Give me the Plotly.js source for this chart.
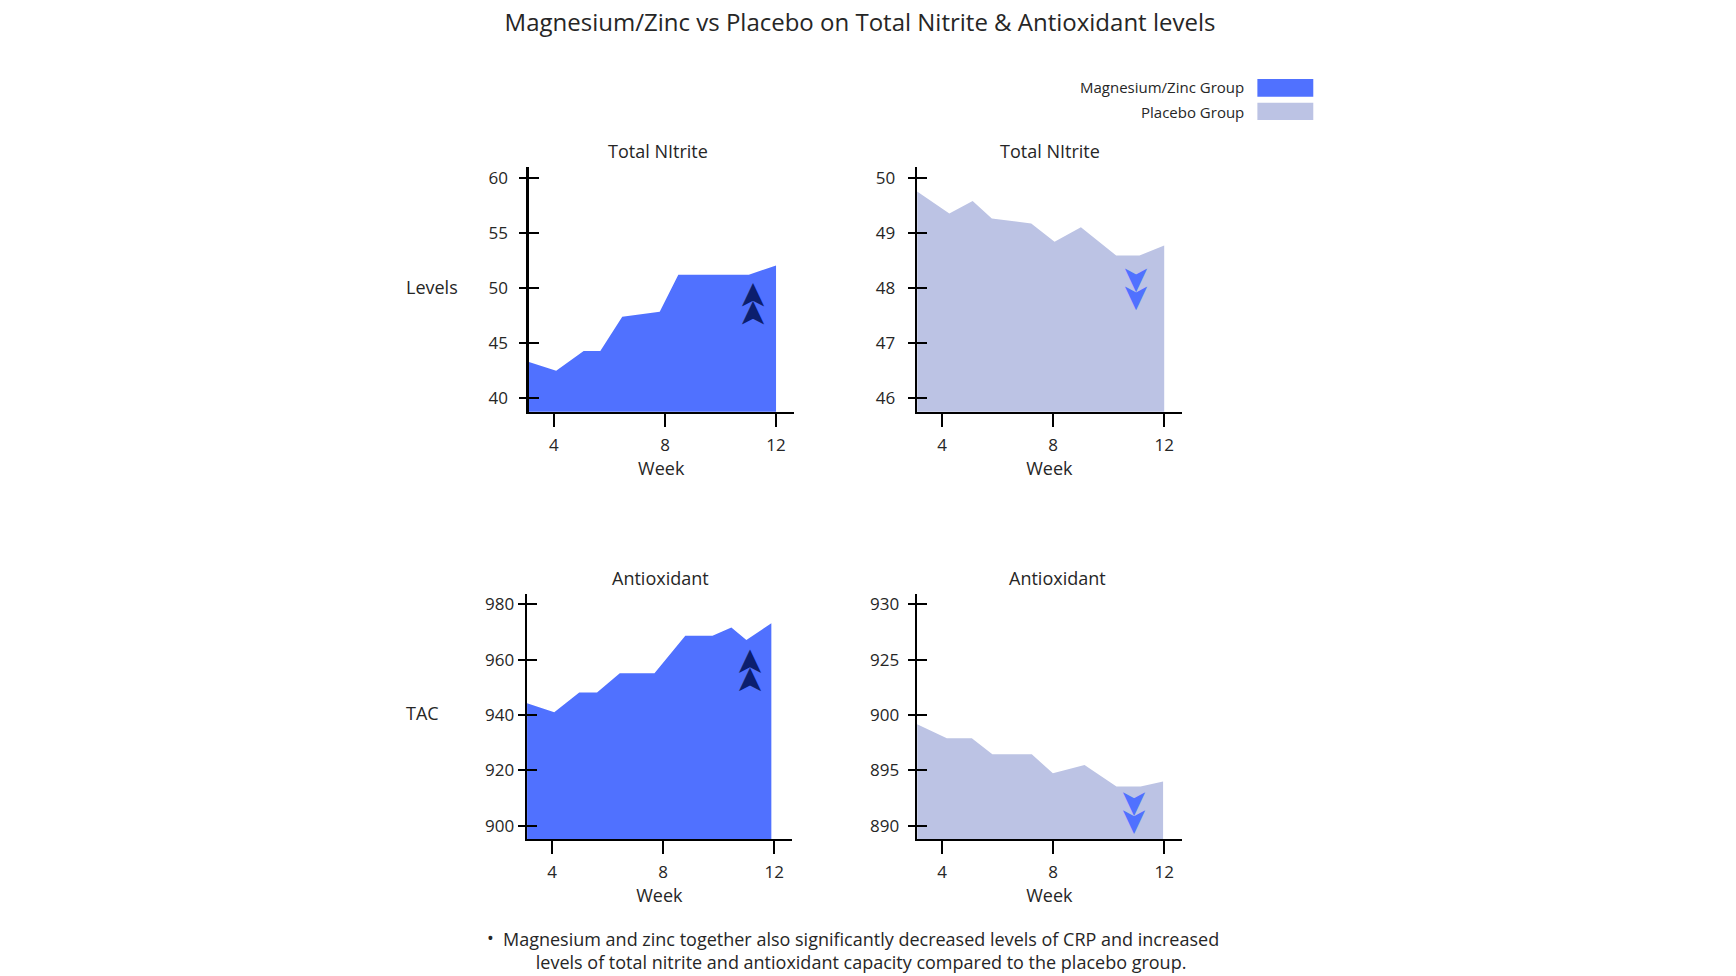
<!DOCTYPE html>
<html><head><meta charset="utf-8">
<script src="https://cdn.plot.ly/plotly-3.0.1.min.js"></script>
<style>html,body{margin:0;padding:0;background:#fff}#chart{width:1736px;height:976px}</style>
</head><body><div id="chart"></div>
<script>
// ---- data ----
const seriesNames = ['Magnesium/Zinc Group', 'Placebo Group'];
const panelTitles = ['Total NItrite', 'Total NItrite', 'Antioxidant', 'Antioxidant'];
const rowLabels = ['Levels', 'TAC'];
const weekTicks = [4, 8, 12];

const mgNitriteWeeks = [3.1, 4.08, 5.07, 5.67, 6.46, 7.81, 8.48, 11.02, 12];
const mgNitrite      = [43.3, 42.5, 44.3, 44.3, 47.4, 47.85, 51.2, 51.2, 52.05];

const plNitriteWeeks = [3.1, 4.26, 5.10, 5.79, 7.21, 8.05, 9.0, 10.27, 11.11, 12];
const plNitrite      = [49.75, 49.35, 49.58, 49.26, 49.17, 48.84, 49.10, 48.59, 48.59, 48.77];

const mgTACWeeks = [3.1, 4.08, 4.98, 5.62, 6.44, 7.69, 8.80, 9.78, 10.46, 11.0, 11.9];
const mgTAC      = [944.2, 941.0, 948.1, 948.1, 955.1, 955.1, 968.6, 968.6, 971.6, 967.1, 973.1];

const plTACWeeks = [3.1, 4.17, 5.07, 5.81, 7.23, 7.99, 9.13, 10.28, 11.15, 11.96];
const plTAC      = [899.16, 897.9, 897.9, 896.45, 896.45, 894.73, 895.48, 893.55, 893.55, 894.0];

const yTicksTL = [40, 45, 50, 55, 60];
const yTicksTR = [46, 47, 48, 49, 50];
const yTicksBL = [900, 920, 940, 960, 980];
const yTicksBR = [890, 895, 900, 905, 910];
const yTickTextBR = ['890', '895', '900', '925', '930'];

const titleText = 'Magnesium/Zinc vs Placebo on Total Nitrite &amp; Antioxidant levels';
const footnoteText = 'Magnesium and zinc together also significantly decreased levels of CRP and increased<br>levels of total nitrite and antioxidant capacity compared to the placebo group.';

// ---- styling ----
const MG = '#5071ff';
const PL = '#bcc3e4';
const NAVY = '#0c1f6e';
const TXT = '#262626';
const FONT = 'Open Sans, sans-serif';

function xAxis(domain, anchor) {
  return {
    domain: domain, anchor: anchor, range: [3.1, 12.63],
    tickvals: weekTicks, ticks: 'outside', ticklen: 13, tickwidth: 2, tickcolor: '#000',
    showline: true, linewidth: 2.5, linecolor: '#000',
    showgrid: false, zeroline: false, ticklabelstandoff: 3,
    tickfont: {family: FONT, size: 17, color: TXT},
    title: {text: 'Week', font: {family: FONT, size: 18, color: TXT}, standoff: 3},
    fixedrange: true
  };
}
function yAxis(domain, anchor, range, ticks, standoff, text) {
  const a = {
    domain: domain, anchor: anchor, range: range,
    tickvals: ticks, ticks: 'outside', ticklen: 7, tickwidth: 2, tickcolor: '#000',
    showline: true, linewidth: 2.5, linecolor: '#000',
    showgrid: false, zeroline: false, ticklabelstandoff: standoff,
    tickfont: {family: FONT, size: 17, color: TXT}, fixedrange: true
  };
  if (text) a.ticktext = text;
  return a;
}
function yOverlay(base, anchor, range, ticks) {
  return {
    overlaying: base, anchor: anchor, side: 'left', range: range,
    tickvals: ticks, ticks: 'inside', ticklen: 10, tickwidth: 2, tickcolor: '#000',
    showticklabels: false, showline: false, showgrid: false, zeroline: false, fixedrange: true
  };
}

const leftDomTop = [0.3047, 0.4571], rightDom = [0.5283, 0.6807], leftDomBot = [0.3036, 0.4560];
const topDom = [0.5782, 0.8292], botDom = [0.1404, 0.3911];
const rTL = [38.79, 61.0], rTR = [45.757, 50.2], rBL = [895.2, 983.6], rBR = [888.8, 910.9];

function area(x, y, color, xa, ya, name) {
  return {x: x, y: y, xaxis: xa, yaxis: ya, type: 'scatter', mode: 'none',
          fill: 'tozeroy', fillcolor: color, name: name, showlegend: false, hoverinfo: 'x+y'};
}
function empty(xa, ya) {
  return {x: [], y: [], xaxis: xa, yaxis: ya, type: 'scatter', mode: 'none', showlegend: false, hoverinfo: 'skip'};
}

const data = [
  area(mgNitriteWeeks, mgNitrite, MG, 'x', 'y', seriesNames[0]),
  area(plNitriteWeeks, plNitrite, PL, 'x2', 'y2', seriesNames[1]),
  area(mgTACWeeks, mgTAC, MG, 'x3', 'y3', seriesNames[0]),
  area(plTACWeeks, plTAC, PL, 'x4', 'y4', seriesNames[1]),
  empty('x', 'y5'), empty('x2', 'y6'), empty('x3', 'y7'), empty('x4', 'y8')
];

function txt(text, x, y, size, opts) {
  return Object.assign({text: text, x: x, y: y, xref: 'paper', yref: 'paper', showarrow: false,
    xanchor: 'center', yanchor: 'middle', font: {family: FONT, size: size, color: TXT}}, opts || {});
}
function chev(x, y, up, color) {
  return {text: '➤', x: x, y: y, xref: 'paper', yref: 'paper', showarrow: false,
    xanchor: 'center', yanchor: 'middle', textangle: up ? -90 : 90,
    font: {family: 'DejaVu Sans', size: 35, color: color}};
}

const annotations = [
  txt(panelTitles[0], 0.3790, 0.8452, 18),
  txt(panelTitles[1], 0.6048, 0.8452, 18),
  txt(panelTitles[2], 0.3802, 0.4080, 18),
  txt(panelTitles[3], 0.6090, 0.4080, 18),
  txt(rowLabels[0], 0.2330, 0.7062, 18, {xanchor: 'left'}),
  txt(rowLabels[1], 0.2330, 0.2694, 18, {xanchor: 'left'}),
  txt(seriesNames[0], 0.7176, 0.9111, 15, {xanchor: 'right'}),
  txt(seriesNames[1], 0.7176, 0.8852, 15, {xanchor: 'right'}),
  txt('•', 0.2826, 0.0390, 18),
  txt(footnoteText, 0.4960, 0.0262, 18),
  chev(0.4330, 0.6970, true, NAVY), chev(0.4330, 0.6785, true, NAVY),
  chev(0.4311, 0.3210, true, NAVY), chev(0.4311, 0.3025, true, NAVY),
  chev(0.6548, 0.7140, false, MG), chev(0.6548, 0.6955, false, MG),
  chev(0.6538, 0.1770, false, MG), chev(0.6538, 0.1585, false, MG)
];

const shapes = [
  {type: 'rect', xref: 'paper', yref: 'paper', x0: 0.7243, x1: 0.7565, y0: 0.9009, y1: 0.9191, fillcolor: MG, line: {width: 0}},
  {type: 'rect', xref: 'paper', yref: 'paper', x0: 0.7243, x1: 0.7565, y0: 0.8770, y1: 0.8948, fillcolor: PL, line: {width: 0}}
];

const layout = {
  width: 1736, height: 976,
  margin: {l: 0, r: 0, t: 0, b: 0},
  paper_bgcolor: '#fff', plot_bgcolor: 'rgba(0,0,0,0)',
  font: {family: FONT, color: TXT},
  showlegend: false,
  title: {text: titleText, x: 0.4954, xanchor: 'center', y: 0.9764, yanchor: 'middle',
          font: {family: FONT, size: 24, color: TXT}},
  xaxis: xAxis(leftDomTop, 'y'),
  yaxis: yAxis(topDom, 'x', rTL, yTicksTL, 8),
  xaxis2: xAxis(rightDom, 'y2'),
  yaxis2: yAxis(topDom, 'x2', rTR, yTicksTR, 9),
  xaxis3: xAxis(leftDomBot, 'y3'),
  yaxis3: yAxis(botDom, 'x3', rBL, yTicksBL, 0),
  xaxis4: xAxis(rightDom, 'y4'),
  yaxis4: yAxis(botDom, 'x4', rBR, yTicksBR, 5, yTickTextBR),
  yaxis5: yOverlay('y', 'x', rTL, yTicksTL),
  yaxis6: yOverlay('y2', 'x2', rTR, yTicksTR),
  yaxis7: yOverlay('y3', 'x3', rBL, yTicksBL),
  yaxis8: yOverlay('y4', 'x4', rBR, yTicksBR),
  annotations: annotations,
  shapes: shapes
};

Plotly.newPlot('chart', data, layout, {displayModeBar: false, staticPlot: true});
</script>
</body></html>
